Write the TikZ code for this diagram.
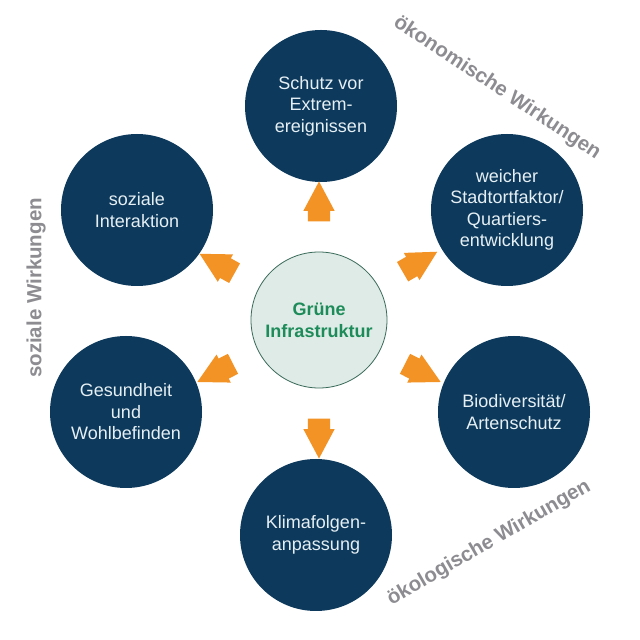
\documentclass[tikz,border=0pt]{standalone}
\usepackage{fontspec}
\setmainfont{Liberation Sans}
\usetikzlibrary{shapes.arrows,calc}
\definecolor{navy}{HTML}{0D3A5C}
\definecolor{txtc}{HTML}{E6EFF4}
\definecolor{orangeA}{HTML}{F39325}
\definecolor{cfill}{HTML}{DEEBE6}
\definecolor{cline}{HTML}{3A6A5A}
\definecolor{gtxt}{HTML}{1E8C5A}
\definecolor{lgray}{HTML}{8C8C91}
\tikzset{
  outer/.style={circle, fill=navy, minimum size=152pt, inner sep=0pt, text=txtc,
    font=\fontsize{18}{21.5}\selectfont, align=center},
  core/.style={circle, fill=cfill, draw=cline, line width=0.8pt, minimum size=136pt,
    inner sep=0pt, text=gtxt, font=\bfseries\fontsize{18}{22}\selectfont, align=center},
  blockarrow/.style={shape=single arrow, fill=orangeA, draw=none, inner xsep=0pt,
    inner ysep=11pt, minimum height=40pt,
    single arrow head extend=4.5pt, single arrow tip angle=56, single arrow head indent=0pt},
  effect/.style={text=lgray, font=\bfseries\fontsize{20.5}{24}\selectfont}
}
\begin{document}
\begin{tikzpicture}[x=1pt,y=1pt]
\useasboundingbox (0,0) rectangle (640,640);
\fill[white] (0,0) rectangle (640,640);
\node[core] (c) at (319,320) {Grüne\\Infrastruktur};
\node[outer] (top) at (321,534) {Schutz vor\\Extrem-\\ereignissen};
\node[outer] (tr) at (507,430) {weicher\\Stadtortfaktor/\\Quartiers-\\entwicklung};
\node[outer] (br) at (514,228) {Biodiversität/\\Artenschutz};
\node[outer] (bot) at (316,105) {Klimafolgen-\\anpassung};
\node[outer] (bl) at (126,228) {Gesundheit\\und\\Wohlbefinden};
\node[outer] (tl) at (137,430) {soziale\\Interaktion};
\node[blockarrow, rotate=90] (a1) at ($(c)+(90:108)$) {};
\node[blockarrow, rotate=30] (a2) at ($(c)+(30:106)$) {};
\node[blockarrow, rotate=-27] (a3) at ($(c)+(-27:106)$) {};
\node[blockarrow, rotate=-90] (a4) at ($(c)+(-90:108)$) {};
\node[blockarrow, rotate=207] (a5) at ($(c)+(207:106)$) {};
\node[blockarrow, rotate=151] (a6) at ($(c)+(151:106)$) {};
\node[effect, rotate=-33.5] (l1) at (497,552) {ökonomische Wirkungen};
\node[effect, rotate=30] (l2) at (489,97) {ökologische Wirkungen};
\node[effect, rotate=90] (l3) at (36,352) {soziale Wirkungen};
\end{tikzpicture}
\end{document}
